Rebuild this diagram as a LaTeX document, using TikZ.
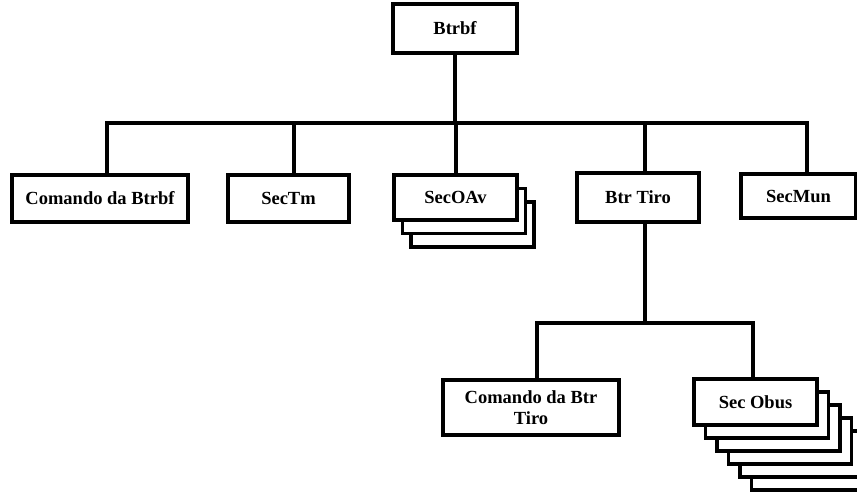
\documentclass[tikz,border=0pt]{standalone}
\usepackage{fontspec}
\setmainfont{Liberation Serif}
\usetikzlibrary{positioning,calc}

\tikzset{
    unit/.style={draw, line width=3.2pt, fill=white, inner sep=0pt, align=center,
        font=\fontsize{18.5}{21}\selectfont\bfseries},
    link/.style={line width=3.2pt, line join=miter},
}

\begin{document}
\begin{tikzpicture}[x=1pt, y=-1pt]
    \clip (0,0) rectangle (857,492);

    % Stacked copies behind SecOAv and Sec Obus
    \foreach \k in {2,1}
        \draw[unit] (394+8.5*\k, 175+13.5*\k) rectangle ++(123,45);
    \foreach \k in {5,4,...,1}
        \draw[unit] (694+11.5*\k, 379+13*\k) rectangle ++(123,46);

    % Units
    \node[unit, minimum width=124pt, minimum height=49pt] (btrbf) at (455,28.5) {Btrbf};
    \node[unit, minimum width=176pt, minimum height=47pt] (cmd) at (100,198.5) {Comando da Btrbf};
    \node[unit, minimum width=121pt, minimum height=47pt] (sectm) at (288.5,198.5) {SecTm};
    \node[unit, minimum width=123pt, minimum height=45pt] (secoav) at (455.5,197.5) {SecOAv};
    \node[unit, minimum width=122pt, minimum height=49pt] (tiro) at (638,197.5) {Btr Tiro};
    \node[unit, minimum width=115pt, minimum height=44pt] (secmun) at (798.5,196) {SecMun};
    \node[unit, minimum width=176pt, minimum height=55pt] (cmdtiro) at (531,407.5) {Comando da Btr\\Tiro};
    \node[unit, minimum width=123pt, minimum height=46pt] (obus) at (755.5,402) {Sec Obus};

    % Links
    \coordinate (bus) at (455,123);
    \coordinate (subbus) at (645,323);
    \draw[link] (btrbf.south) -- (btrbf.south |- bus);
    \draw[link] ([xshift=7pt]cmd.north) |- ([xshift=8.5pt]secmun.north |- bus) -- ([xshift=8.5pt]secmun.north);
    \foreach \n/\dx in {sectm/5.5, secoav/0.5, tiro/7}
        \draw[link] ([xshift=\dx pt]\n.north) -- ([xshift=\dx pt]\n.north |- bus);

    \draw[link] ([xshift=7pt]tiro.south) -- ([xshift=7pt]tiro.south |- subbus);
    \draw[link] ([xshift=6pt]cmdtiro.north) |- ([xshift=-2.5pt]obus.north |- subbus) -- ([xshift=-2.5pt]obus.north);
\end{tikzpicture}
\end{document}
